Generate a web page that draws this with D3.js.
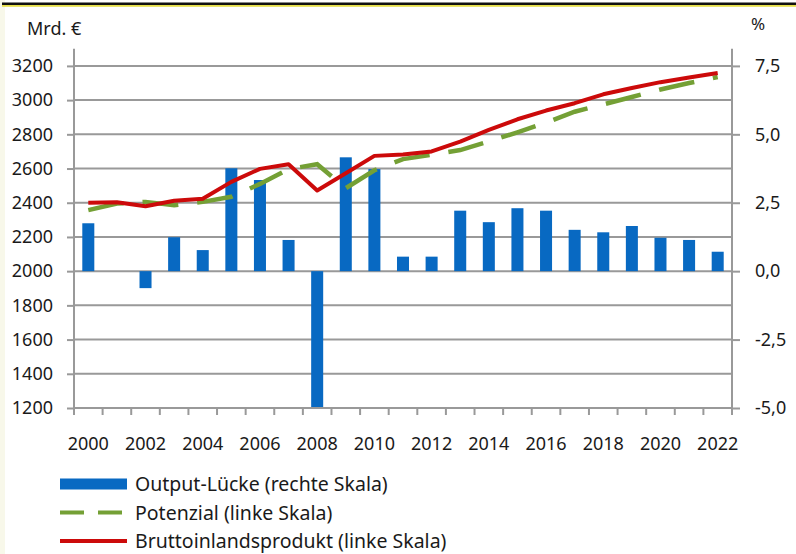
<!DOCTYPE html>
<html lang="de">
<head>
<meta charset="UTF-8">
<script src="https://d3js.org/d3.v7.min.js"></script>
<title>Output-Lücke</title>
<style>
  body { margin: 0; background: #fff; }
  svg text { font-family: "Noto Sans", sans-serif; fill: #1a1a1a; }
</style>
</head>
<body>
<div id="chart"></div>
<script>
const years = d3.range(2000, 2023);
const yearLabels = years.filter(y => y % 2 === 0);

// Output-Lücke, % (rechte Skala)
const outputGap = [1.75, 0, -0.62, 1.24, 0.77, 3.76, 3.33, 1.14, -5.0, 4.16, 3.73,
  0.53, 0.53, 2.21, 1.79, 2.30, 2.21, 1.51, 1.42, 1.65, 1.22, 1.14, 0.71];
// Potenzial, Mrd. € (linke Skala)
const potential = [2357, 2395, 2405, 2385, 2405, 2435, 2510, 2597, 2625, 2485, 2590,
  2655, 2680, 2708, 2758, 2812, 2868, 2932, 2975, 3018, 3062, 3100, 3135];
// Bruttoinlandsprodukt, Mrd. € (linke Skala)
const gdp = [2400, 2403, 2380, 2412, 2423, 2522, 2598, 2625, 2472, 2572, 2674,
  2682, 2700, 2757, 2826, 2888, 2939, 2982, 3034, 3071, 3105, 3132, 3158];

const leftTicks = d3.range(1200, 3201, 200);
const rightTicks = [-5, -2.5, 0, 2.5, 5, 7.5];

const legendItems = [
  { label: "Output-Lücke (rechte Skala)", type: "bar" },
  { label: "Potenzial (linke Skala)", type: "dash" },
  { label: "Bruttoinlandsprodukt (linke Skala)", type: "line" }
];

const width = 796, height = 554;
const blue = "#0869c2", green = "#74a035", red = "#cc0a0a", grid = "#999";

const svg = d3.select("#chart").append("svg")
  .attr("width", width).attr("height", height);

// frame on top
svg.append("rect").attr("x", 0).attr("y", 0).attr("width", 5).attr("height", height).attr("fill", "#f8f8ea");
svg.append("rect").attr("x", 2).attr("y", 2.5).attr("width", width).attr("height", 2.5).attr("fill", "#111");
svg.append("rect").attr("x", 2).attr("y", 5).attr("width", width).attr("height", 1.8).attr("fill", "#e6df4a");

const x0 = 74, x1 = 732, yTop = 48.8, yBot = 408;

const x = d3.scaleBand().domain(years).range([x0, x1]).padding(0);
const yL = d3.scaleLinear().domain([1200, 3300]).range([yBot, yTop]);
const yR = d3.scaleLinear().domain([-5, 8.125]).range([yBot, yTop]);

// gridlines
svg.append("g").selectAll("line")
  .data(leftTicks.filter(t => t > 1200))
  .join("line")
  .attr("x1", x0).attr("x2", x1)
  .attr("y1", d => yL(d)).attr("y2", d => yL(d))
  .attr("stroke", grid).attr("stroke-width", 2);

// bars
const barW = x.bandwidth() * 0.42;
svg.append("g").selectAll("rect")
  .data(years.map((y, i) => ({ year: y, v: outputGap[i] })))
  .join("rect")
  .attr("x", d => x(d.year) + (x.bandwidth() - barW) / 2)
  .attr("width", barW)
  .attr("y", d => Math.min(yR(0), yR(d.v)))
  .attr("height", d => Math.abs(yR(d.v) - yR(0)))
  .attr("fill", blue);

// axes
const axisStyle = g => {
  g.select(".domain").attr("stroke", grid).attr("stroke-width", 2);
  g.selectAll(".tick line").attr("stroke", grid).attr("stroke-width", 2);
  g.selectAll(".tick text").style("font-size", "18px").attr("fill", "#1a1a1a");
};

svg.append("g")
  .attr("transform", `translate(${x0},0)`)
  .call(d3.axisLeft(yL).tickValues(leftTicks).tickSize(7).tickPadding(14).tickSizeOuter(0)
    .tickFormat(d3.format("d")))
  .call(axisStyle)
  .call(g => g.select(".domain").attr("d", `M0,${yTop}V${yBot}`));

svg.append("g")
  .attr("transform", `translate(${x1},0)`)
  .call(d3.axisRight(yR).tickValues(rightTicks).tickSize(8).tickPadding(15).tickSizeOuter(0)
    .tickFormat(d => d3.format(".1f")(d).replace(".", ",").replace("−", "-")))
  .call(axisStyle)
  .call(g => g.select(".domain").attr("d", `M0,${yTop}V${yBot}`));

const xAxis = svg.append("g").attr("transform", `translate(0,${yBot})`);
xAxis.append("line").attr("x1", x0).attr("x2", x1).attr("stroke", grid).attr("stroke-width", 2);
xAxis.selectAll(".xt")
  .data(years.concat([2023]))
  .join("line")
  .attr("x1", d => d === 2023 ? x1 : x(d)).attr("x2", d => d === 2023 ? x1 : x(d))
  .attr("y1", 0).attr("y2", 7)
  .attr("stroke", grid).attr("stroke-width", 2);
xAxis.selectAll("text")
  .data(yearLabels)
  .join("text")
  .attr("x", d => x(d) + x.bandwidth() / 2)
  .attr("y", 42)
  .attr("text-anchor", "middle")
  .style("font-size", "18px")
  .text(d => d);

// lines
const line = data => d3.line()
  .x((d, i) => x(years[i]) + x.bandwidth() / 2)
  .y(d => yL(d))(data);

svg.append("path").attr("d", line(potential))
  .attr("fill", "none").attr("stroke", green).attr("stroke-width", 4.5)
  .attr("stroke-dasharray", "36,19");

svg.append("path").attr("d", line(gdp))
  .attr("fill", "none").attr("stroke", red).attr("stroke-width", 4)
  .attr("stroke-linejoin", "round");

// axis titles
svg.append("text").attr("x", 27).attr("y", 35).style("font-size", "18px").text("Mrd. €");
svg.append("text").attr("x", 751).attr("y", 30).style("font-size", "17px").text("%");

// legend
const lg = svg.append("g").attr("transform", "translate(60,484)");
legendItems.forEach((item, i) => {
  const g = lg.append("g").attr("transform", `translate(0,${i * 28.5})`);
  if (item.type === "bar") {
    g.append("rect").attr("x", 0).attr("y", -5.5).attr("width", 67).attr("height", 11).attr("fill", blue);
  } else {
    g.append("line").attr("x1", 0).attr("x2", 67).attr("y1", 0).attr("y2", 0)
      .attr("stroke", item.type === "dash" ? green : red).attr("stroke-width", 4)
      .attr("stroke-dasharray", item.type === "dash" ? "24,14" : null);
  }
  g.append("text").attr("x", 75).attr("y", 0).attr("dy", "0.36em")
    .style("font-size", "19.5px").text(item.label);
});
</script>
</body>
</html>
